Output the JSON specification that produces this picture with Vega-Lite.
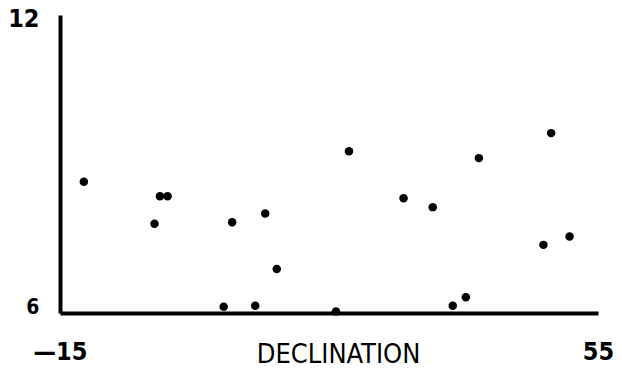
{
  "$schema": "https://vega.github.io/schema/vega-lite/v6.json",
  "autosize": "none",
  "width": 538,
  "height": 298,
  "padding": {"left": 60, "top": 15, "right": 24, "bottom": 58},
  "background": "white",
  "config": {
    "view": {"stroke": null},
    "font": "DejaVu Sans Condensed"
  },
  "data": {
    "values": [
      {"declination": -11.9, "value": 8.68},
      {"declination": -2.0, "value": 8.38},
      {"declination": -1.0, "value": 8.38},
      {"declination": -2.7, "value": 7.82},
      {"declination": 7.4, "value": 7.85},
      {"declination": 11.7, "value": 8.03},
      {"declination": 13.2, "value": 6.9},
      {"declination": 6.3, "value": 6.13},
      {"declination": 10.4, "value": 6.15},
      {"declination": 22.6, "value": 9.3},
      {"declination": 29.7, "value": 8.34},
      {"declination": 33.5, "value": 8.16},
      {"declination": 39.5, "value": 9.16},
      {"declination": 48.9, "value": 9.67},
      {"declination": 47.9, "value": 7.39},
      {"declination": 51.3, "value": 7.56},
      {"declination": 36.1, "value": 6.15},
      {"declination": 37.8, "value": 6.32},
      {"declination": 20.9, "value": 6.03}
    ]
  },
  "mark": {"type": "point", "filled": true, "color": "black", "opacity": 1, "size": 72},
  "encoding": {
    "x": {
      "field": "declination",
      "type": "quantitative",
      "scale": {"domain": [-15, 55], "nice": false, "zero": false},
      "axis": {
        "title": "DECLINATION",
        "values": [-15, 55],
        "labelExpr": "datum.value < 0 ? '\u201415' : '55'",
        "grid": false,
        "ticks": false,
        "domainColor": "black",
        "domainWidth": 4,
        "labelColor": "black",
        "labelFont": "DejaVu Sans Condensed",
        "labelFontSize": 25,
        "labelFontWeight": "bold",
        "labelPadding": 46,
        "labelBaseline": "alphabetic",
        "labelFlush": false,
        "labelOverlap": false,
        "titleColor": "black",
        "titleFont": "DejaVu Sans Condensed",
        "titleFontSize": 27,
        "titleFontWeight": "normal",
        "titleX": 278,
        "titleY": 49,
        "titleBaseline": "alphabetic"
      }
    },
    "y": {
      "field": "value",
      "type": "quantitative",
      "scale": {"domain": [6, 12.08], "nice": false, "zero": false},
      "axis": {
        "title": null,
        "values": [6, 12],
        "grid": false,
        "ticks": false,
        "domainColor": "black",
        "domainWidth": 4,
        "labelColor": "black",
        "labelFont": "DejaVu Sans Condensed",
        "labelFontSize": {"condition": {"test": "datum.value == 6", "value": 21}, "value": 25},
        "labelBaseline": {"condition": {"test": "datum.value == 6", "value": "alphabetic"}, "value": "middle"},
        "labelFontWeight": "bold",
        "labelPadding": 21,
        "labelFlush": false,
        "labelOverlap": false
      }
    }
  }
}
